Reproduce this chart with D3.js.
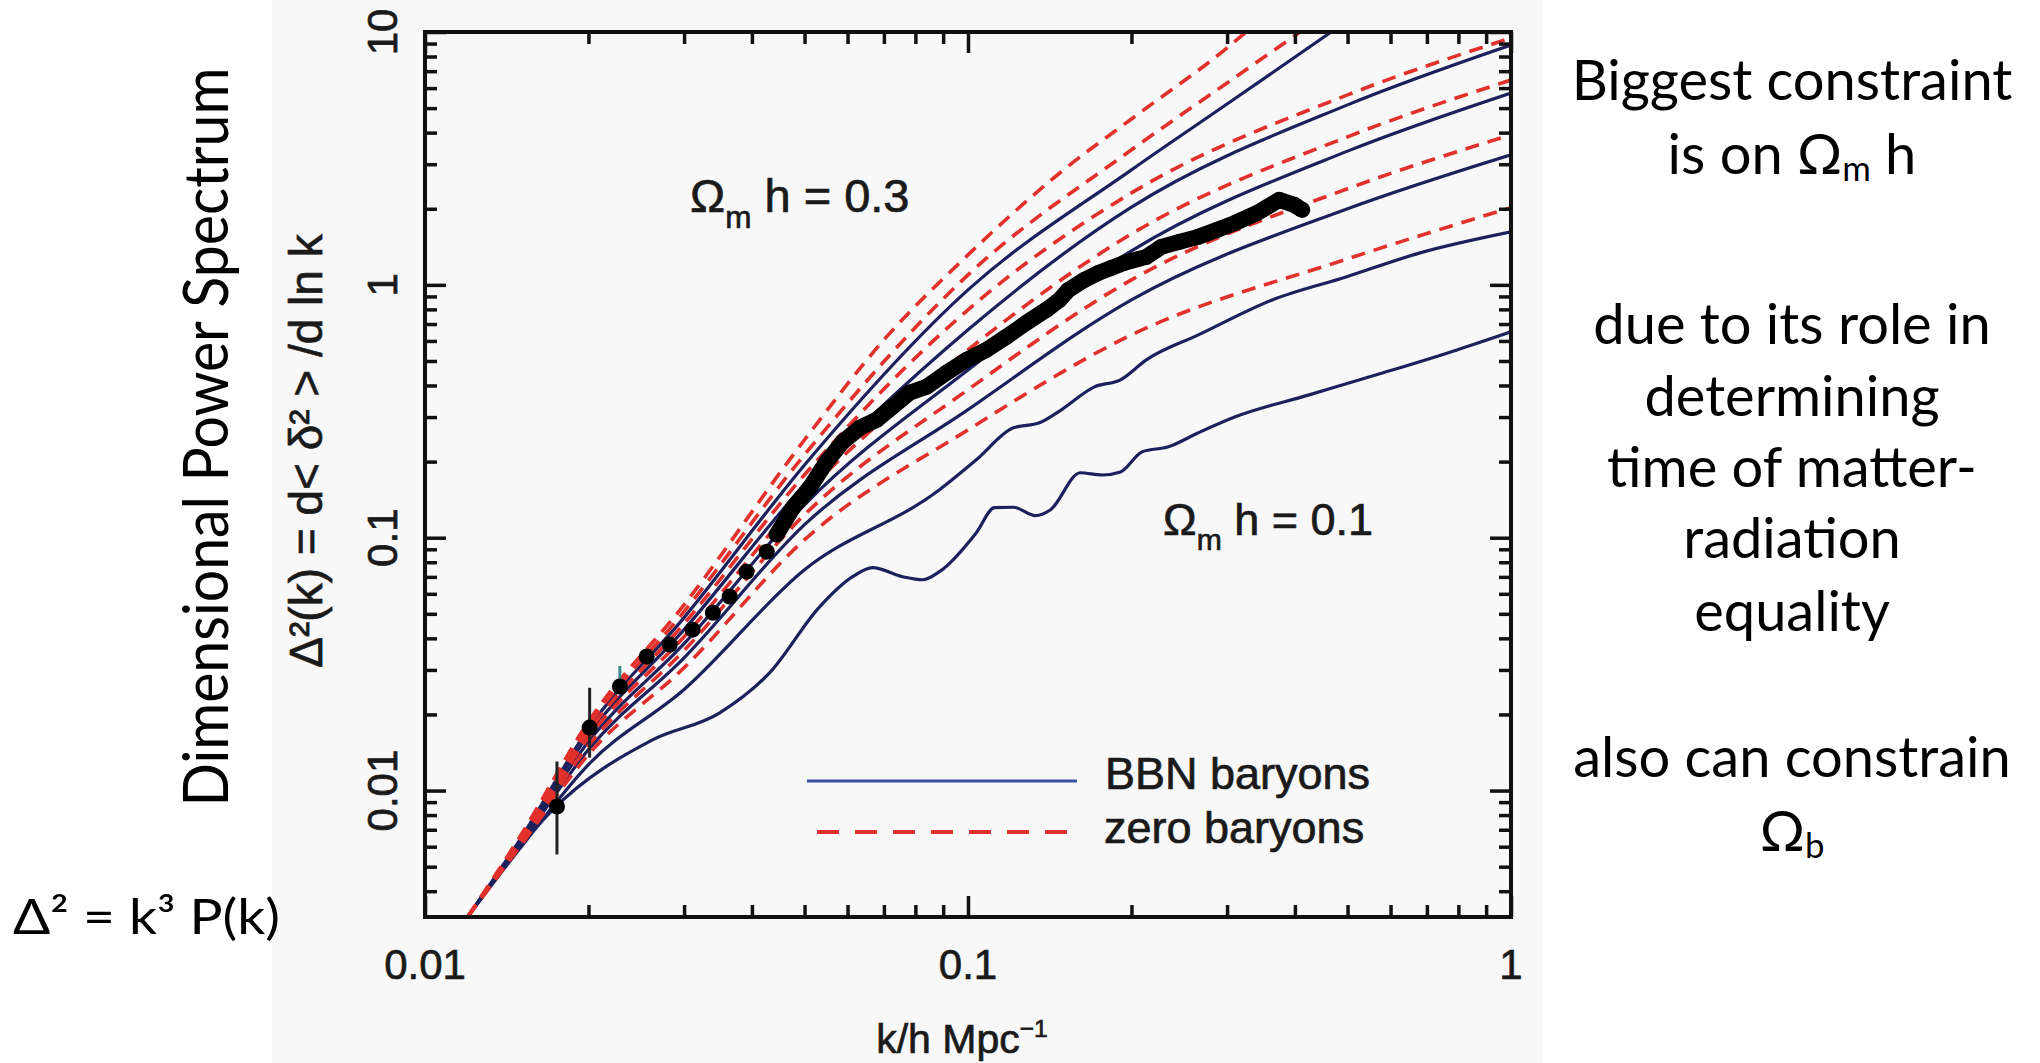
<!DOCTYPE html>
<html>
<head>
<meta charset="utf-8">
<script src="https://cdnjs.cloudflare.com/ajax/libs/d3/7.8.5/d3.min.js"></script>
<style>
  body { margin: 0; background: #fff; }
  svg { display: block; }
</style>
</head>
<body>
<div id="main"></div>
<script>

// shared k grid (h/Mpc) for most model curves
var kGrid = [0.012, 0.015, 0.02, 0.03, 0.05, 0.1, 0.2, 0.5, 1.0]

// BBN baryons (solid), Omega_m h = 0.30 .. 0.10
var bbn030K = [0.012, 0.015, 0.02, 0.03, 0.05, 0.1, 0.2, 0.3, 0.4665]
var bbn030 = [0.00318, 0.00646, 0.01758, 0.0483, 0.194, 0.955, 2.85, 5.19, 10]
var bbn026 = [0.00318, 0.00634, 0.01665, 0.0433, 0.162, 0.664, 2.03, 5.15, 8.88]
var bbn022 = [0.00318, 0.00623, 0.01562, 0.0381, 0.135, 0.461, 1.363, 3.38, 5.74]
var bbn018 = [0.00318, 0.00612, 0.01453, 0.0335, 0.1126, 0.321, 0.872, 2.00, 3.27]
var bbn014K = [0.012, 0.015, 0.02, 0.03, 0.05, 0.0886, 0.1036, 0.1212, 0.1354, 0.1486, 0.1709, 0.1909, 0.213, 0.2656, 0.3634, 0.497, 0.68, 1.0]
var bbn014 = [0.00318, 0.00595, 0.01267, 0.0251, 0.0747, 0.1547, 0.2033, 0.272, 0.2848, 0.3206, 0.395, 0.421, 0.505, 0.634, 0.872, 1.075, 1.338, 1.62]
var bbn010K = [0.012, 0.0172, 0.0263, 0.0349, 0.0431, 0.0533, 0.0613, 0.0667, 0.0758, 0.0825, 0.0886, 0.1036, 0.1119, 0.1212, 0.1331, 0.1419, 0.161, 0.1768, 0.1909, 0.2094, 0.2339, 0.2655, 0.3107, 0.4249, 0.5816, 0.7957, 1.0]
var bbn010 = [0.00318, 0.00841, 0.0159, 0.0203, 0.0292, 0.0533, 0.0701, 0.0761, 0.0701, 0.0682, 0.0734, 0.1047, 0.1315, 0.132, 0.1222, 0.129, 0.1807, 0.177, 0.182, 0.2188, 0.2288, 0.260, 0.3008, 0.3673, 0.449, 0.553, 0.652]

// zero baryons (dashed)
var zero030K = [0.012, 0.015, 0.02, 0.03, 0.05, 0.07, 0.1, 0.15, 0.2, 0.3, 0.3253]
var zero030 = [0.00318, 0.00664, 0.01874, 0.0543, 0.244, 0.606, 1.314, 2.85, 4.53, 8.65, 10]
var zero026K = [0.012, 0.015, 0.02, 0.03, 0.05, 0.1, 0.2, 0.3, 0.409]
var zero026 = [0.00318, 0.00652, 0.01806, 0.0510, 0.213, 1.095, 3.42, 6.29, 10]
var zero022 = [0.00318, 0.00640, 0.01711, 0.0457, 0.1774, 0.797, 2.31, 5.64, 9.47]
var zero018 = [0.00318, 0.00629, 0.01621, 0.0406, 0.1479, 0.553, 1.59, 3.85, 6.46]
var zero014 = [0.00318, 0.00617, 0.01506, 0.0358, 0.1233, 0.385, 1.047, 2.40, 3.92]
var zero010 = [0.00318, 0.00606, 0.01388, 0.0306, 0.0982, 0.267, 0.634, 1.267, 2.02]

// measured points
var dataK = [0.0175, 0.0201, 0.02285, 0.0256, 0.02824, 0.0311, 0.0339, 0.0364, 0.0391, 0.0426, 0.0444, 0.0476, 0.0511, 0.0549, 0.0588, 0.0632, 0.0679, 0.0726, 0.078, 0.0839, 0.0913, 0.0994, 0.1081, 0.1177, 0.1281, 0.1394, 0.1474, 0.1531, 0.1639, 0.1739, 0.1837, 0.1941, 0.213, 0.227, 0.2449, 0.2656, 0.2878, 0.3106, 0.341, 0.3742, 0.3988, 0.4126]
var dataD = [0.00865, 0.01774, 0.0258, 0.0339, 0.0378, 0.0433, 0.0505, 0.0585, 0.0734, 0.0881, 0.1028, 0.1314, 0.1576, 0.1998, 0.2395, 0.272, 0.2927, 0.3294, 0.3742, 0.3953, 0.449, 0.505, 0.553, 0.623, 0.708, 0.797, 0.872, 0.955, 1.047, 1.115, 1.167, 1.222, 1.29, 1.413, 1.479, 1.548, 1.65, 1.758, 1.926, 2.168, 2.072, 1.979]
var errK = [0.0175, 0.0201, 0.02285]
var errLo = [0.00559, 0.0135, 0.0251]
var errHi = [0.01303, 0.0255, 0.0311]

// ticks
var xMajor = [0.01, 0.1, 1]
var xMajorLabels = ["0.01", "0.1", "1"]
var xMinor = [0.02, 0.03, 0.04, 0.05, 0.06, 0.07, 0.08, 0.09, 0.2, 0.3, 0.4, 0.5, 0.6, 0.7, 0.8, 0.9]
var yMajor = [0.01, 0.1, 1, 10]
var yMajorLabels = ["0.01", "0.1", "1", "10"]
var yMinor = [0.004, 0.005, 0.006, 0.007, 0.008, 0.009, 0.02, 0.03, 0.04, 0.05, 0.06, 0.07, 0.08, 0.09,
	0.2, 0.3, 0.4, 0.5, 0.6, 0.7, 0.8, 0.9, 2, 3, 4, 5, 6, 7, 8, 9]

var W = 2040, H = 1063
var frame = { left: 425, right: 1511, top: 32, bottom: 917 }
var figFont = "'Liberation Sans', Arial, sans-serif"
var slideFont = "Lato, 'Open Sans', sans-serif"
var blue = "#1c215e", red = "#e2302b", ink = "#1a1a1a"

var svg = d3.select("#main").append("svg")
	.attr("width", W)
	.attr("height", H)

svg.append("rect").attr("width", W).attr("height", H).attr("fill", "#fff")
// pasted figure background
svg.append("rect")
	.attr("x", 272).attr("y", 0)
	.attr("width", 1270).attr("height", H)
	.attr("fill", "#f8f8f8")

var x = d3.scaleLog().domain([0.01, 1]).range([frame.left, frame.right])
var y = d3.scaleLog().domain([Math.pow(10, -2.5), 10]).range([frame.bottom, frame.top])

svg.append("clipPath").attr("id", "plotclip")
	.append("rect")
	.attr("x", frame.left).attr("y", frame.top)
	.attr("width", frame.right - frame.left)
	.attr("height", frame.bottom - frame.top)

var line = d3.line()
	.x(function(d) { return x(d[0]) })
	.y(function(d) { return y(d[1]) })
	.curve(d3.curveMonotoneX)

var bbnCurves = [
	d3.zip(bbn030K, bbn030), d3.zip(kGrid, bbn026), d3.zip(kGrid, bbn022),
	d3.zip(kGrid, bbn018), d3.zip(bbn014K, bbn014), d3.zip(bbn010K, bbn010)
]
var zeroCurves = [
	d3.zip(zero030K, zero030), d3.zip(zero026K, zero026), d3.zip(kGrid, zero022),
	d3.zip(kGrid, zero018), d3.zip(kGrid, zero014), d3.zip(kGrid, zero010)
]

var plot = svg.append("g").attr("clip-path", "url(#plotclip)")

plot.selectAll(".bbn")
	.data(bbnCurves)
	.enter()
	.append("path")
	.attr("class", "bbn")
	.attr("d", line)
	.attr("fill", "none")
	.attr("stroke", blue)
	.attr("stroke-width", 3.2)

plot.selectAll(".zero")
	.data(zeroCurves)
	.enter()
	.append("path")
	.attr("class", "zero")
	.attr("d", line)
	.attr("fill", "none")
	.attr("stroke", red)
	.attr("stroke-width", 3.6)
	.attr("stroke-dasharray", "14,9")

// error bars
plot.selectAll(".err")
	.data(d3.range(errK.length))
	.enter()
	.append("line")
	.attr("x1", function(i) { return x(errK[i]) })
	.attr("x2", function(i) { return x(errK[i]) })
	.attr("y1", function(i) { return y(errLo[i]) })
	.attr("y2", function(i) { return y(errHi[i]) })
	.attr("stroke", function(i) { return i == 2 ? "#3a8c8c" : "#222" })
	.attr("stroke-width", 3)

var pts = d3.zip(dataK, dataD)
plot.append("path")
	.datum(pts.filter(function(d) { return d[0] >= 0.044 }))
	.attr("d", d3.line().x(function(d) { return x(d[0]) }).y(function(d) { return y(d[1]) }))
	.attr("fill", "none")
	.attr("stroke", "#000")
	.attr("stroke-width", 16)
	.attr("stroke-linejoin", "round")

plot.selectAll(".pt")
	.data(pts)
	.enter()
	.append("circle")
	.attr("class", "pt")
	.attr("cx", function(d) { return x(d[0]) })
	.attr("cy", function(d) { return y(d[1]) })
	.attr("r", 8)
	.attr("fill", "#000")

// ticks, all pointing inward
function ticks(axisFn, scale, values, size, transform) {
	var g = svg.append("g")
		.attr("transform", transform)
		.call(axisFn(scale).tickValues(values).tickSize(size).tickFormat(""))
	g.select(".domain").remove()
	g.selectAll("line").attr("stroke", "#111").attr("stroke-width", 3.5)
}
ticks(d3.axisBottom, x, xMajor, -21, "translate(0," + frame.bottom + ")")
ticks(d3.axisBottom, x, xMinor, -12, "translate(0," + frame.bottom + ")")
ticks(d3.axisTop, x, xMajor, -21, "translate(0," + frame.top + ")")
ticks(d3.axisTop, x, xMinor, -12, "translate(0," + frame.top + ")")
ticks(d3.axisLeft, y, yMajor, -21, "translate(" + frame.left + ",0)")
ticks(d3.axisLeft, y, yMinor, -12, "translate(" + frame.left + ",0)")
ticks(d3.axisRight, y, yMajor, -21, "translate(" + frame.right + ",0)")
ticks(d3.axisRight, y, yMinor, -12, "translate(" + frame.right + ",0)")

svg.append("rect")
	.attr("x", frame.left).attr("y", frame.top)
	.attr("width", frame.right - frame.left)
	.attr("height", frame.bottom - frame.top)
	.attr("fill", "none")
	.attr("stroke", "#111")
	.attr("stroke-width", 4)

// figure text is a little heavy in the scan
function figText(sel, size) {
	return sel.attr("font-family", figFont).attr("font-size", size)
		.attr("fill", ink).attr("stroke", ink).attr("stroke-width", 0.7)
}

figText(svg.selectAll(".xlab")
	.data(xMajor)
	.enter()
	.append("text")
	.attr("x", function(d) { return x(d) })
	.attr("y", 979)
	.attr("text-anchor", "middle"), 42)
	.text(function(d, i) { return xMajorLabels[i] })

figText(svg.selectAll(".ylab")
	.data(yMajor)
	.enter()
	.append("text")
	.attr("transform", function(d) { return "translate(397," + y(d) + ") rotate(-90)" })
	.attr("text-anchor", "middle"), 42)
	.text(function(d, i) { return yMajorLabels[i] })

// text with sub/superscripts
function rich(sel, parts, size) {
	var shift = 0
	parts.forEach(function(p) {
		var t = sel.append("tspan").text(p.t)
		var target = p.dy ? p.dy * size : 0
		t.attr("dy", target - shift)
		if (p.s) t.attr("font-size", p.s * size)
		shift = target
	})
}

var xt = figText(svg.append("text")
	.attr("x", 962).attr("y", 1053)
	.attr("text-anchor", "middle"), 41)
rich(xt, [{ t: "k/h Mpc" }, { t: "\u22121", s: 0.6, dy: -0.38 }], 41)

figText(svg.append("text")
	.attr("transform", "translate(322,451) rotate(-90)")
	.attr("text-anchor", "middle"), 46)
	.text("\u0394\u00b2(k) = d< \u03b4\u00b2 > /d ln k")

function omegaLabel(px, py, val, size) {
	var t = figText(svg.append("text").attr("x", px).attr("y", py), size)
	rich(t, [{ t: "\u03a9" }, { t: "m", s: 0.67, dy: 0.33 }, { t: " h = " + val }], size)
}
omegaLabel(690, 212, "0.3", 47)
omegaLabel(1163, 535, "0.1", 45)

// legend
svg.append("line")
	.attr("x1", 807).attr("x2", 1077).attr("y1", 781).attr("y2", 781)
	.attr("stroke", "#33509a").attr("stroke-width", 3)
svg.append("line")
	.attr("x1", 817).attr("x2", 1070).attr("y1", 832).attr("y2", 832)
	.attr("stroke", red).attr("stroke-width", 4)
	.attr("stroke-dasharray", "22,16")
figText(svg.append("text").attr("x", 1105).attr("y", 789), 45).text("BBN baryons")
figText(svg.append("text").attr("x", 1104).attr("y", 843), 45).text("zero baryons")

// slide text
svg.append("text")
	.attr("transform", "translate(228,437) rotate(-90)")
	.attr("text-anchor", "middle")
	.attr("font-family", slideFont).attr("font-size", 62).attr("fill", "#000")
	.attr("textLength", 739).attr("lengthAdjust", "spacingAndGlyphs")
	.text("Dimensional Power Spectrum")

svg.append("text")
	.attr("x", 13).attr("y", 934)
	.attr("font-family", slideFont).attr("font-size", 48).attr("fill", "#000")
	.attr("textLength", 267).attr("lengthAdjust", "spacingAndGlyphs")
	.text("\u0394\u00b2 = k\u00b3 P(k)")

var notes = [
	[{ t: "Biggest constraint" }],
	[{ t: "is on \u03a9" }, { t: "m", s: 0.62, dy: 0.12 }, { t: " h" }],
	[{ t: "due to its role in" }],
	[{ t: "determining" }],
	[{ t: "time of matter-" }],
	[{ t: "radiation" }],
	[{ t: "equality" }],
	[{ t: "also can constrain" }],
	[{ t: "\u03a9" }, { t: "b", s: 0.62, dy: 0.12 }]
]
var noteY = [100, 174, 344, 416, 487, 558, 631, 777, 851]

notes.forEach(function(parts, i) {
	var t = svg.append("text")
		.attr("x", 1792).attr("y", noteY[i])
		.attr("text-anchor", "middle")
		.attr("font-family", slideFont).attr("font-size", 56).attr("fill", "#000")
	rich(t, parts, 56)
})

</script>
</body>
</html>
